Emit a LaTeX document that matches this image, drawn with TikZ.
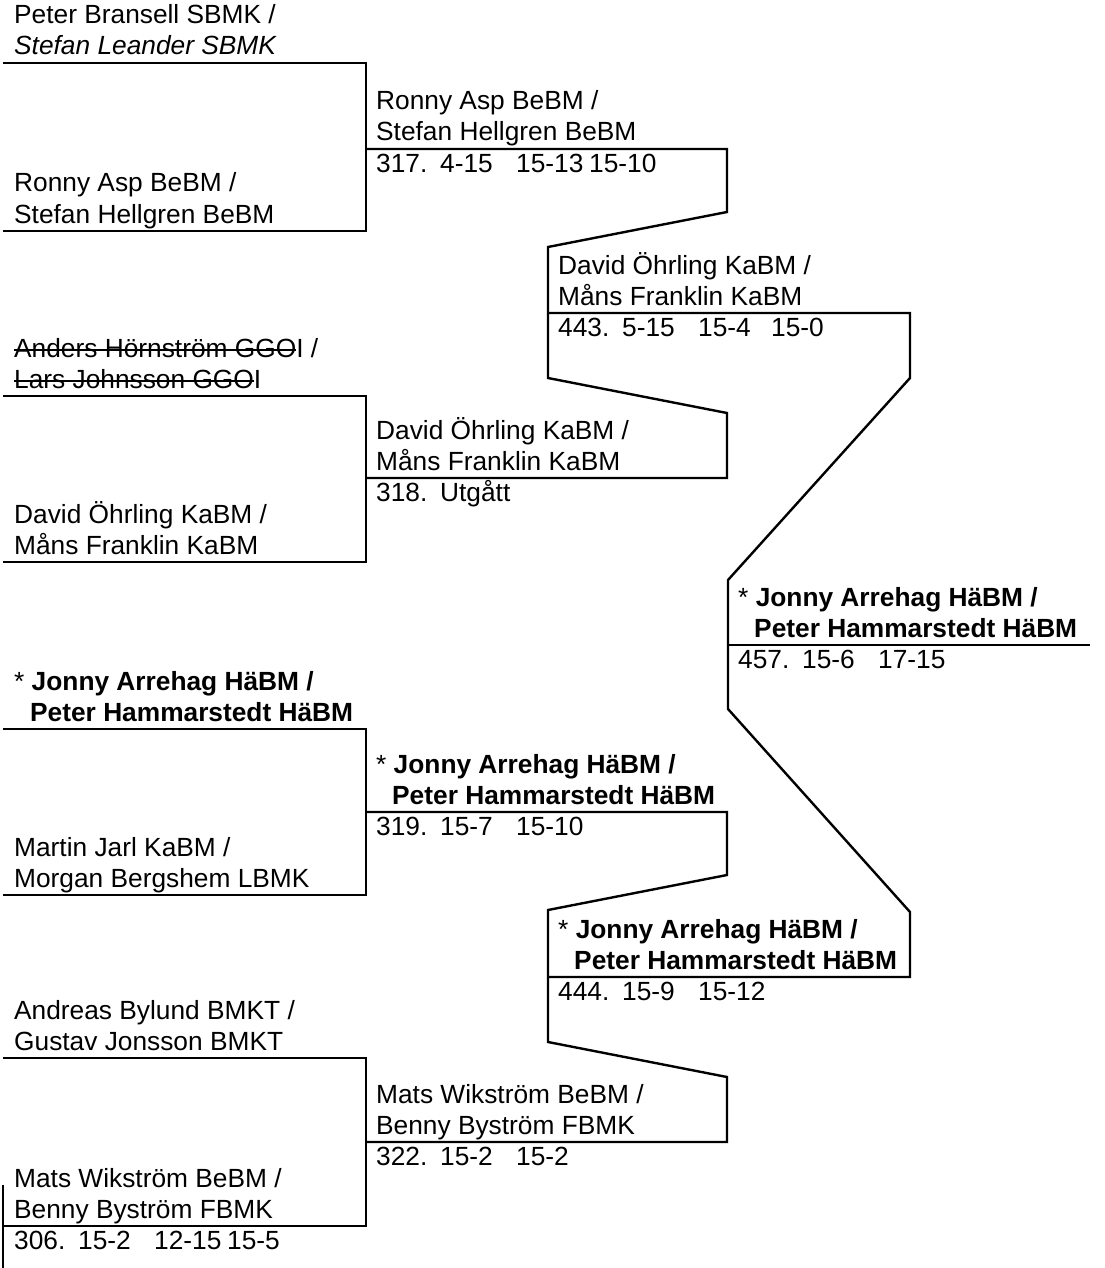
\documentclass[tikz,border=0pt]{standalone}
\usepackage{fontspec}
\setmainfont{Liberation Sans}
\newsavebox{\strikebox}
\newcommand{\struck}[1]{\sbox{\strikebox}{#1}\rlap{\rule[6.5pt]{\wd\strikebox}{1.9pt}}\usebox{\strikebox}}
\newcommand{\res}[4]{\makebox[64pt][l]{#1}\makebox[76pt][l]{#2}\makebox[73pt][l]{#3}#4}

\begin{document}
\begin{tikzpicture}[x=1pt,y=-1pt,line width=2.4pt,
    txt/.style={anchor=base west,inner sep=0pt,font=\fontsize{26.3}{30}\selectfont}]
    \useasboundingbox (0,0) rectangle (1104,1268);
    % first round
    \coordinate (R1) at (3,63);
    \coordinate (R2) at (3,231);
    \coordinate (R3) at (3,396);
    \coordinate (R4) at (3,562);
    \coordinate (R5) at (3,729);
    \coordinate (R6) at (3,895);
    \coordinate (R7) at (3,1058);
    \coordinate (R8) at (3,1226);
    % second round
    \coordinate (Q1) at (366,149);
    \coordinate (Q2) at (366,478);
    \coordinate (Q3) at (366,812);
    \coordinate (Q4) at (366,1142);
    % semi finals and final
    \coordinate (S1) at (548,313);
    \coordinate (S2) at (548,977);
    \coordinate (F1) at (727,645);
      \draw (R1) -- (366,63) -- (366,231) -- (R2);
      \draw (R3) -- (366,396) -- (366,562) -- (R4);
      \draw (R5) -- (366,729) -- (366,895) -- (R6);
      \draw (R7) -- (366,1058) -- (366,1226) -- (R8);
      \draw (3,1185) -- (3,1268);
      \draw (Q1) -- (727,149) -- (727,212) -- (548,247)
        -- (548,378) -- (727,413) -- (727,478) -- (Q2);
      \draw (Q3) -- (727,812) -- (727,875) -- (548,910)
        -- (548,1042) -- (727,1077) -- (727,1142) -- (Q4);
      \draw (S1) -- (910,313) -- (910,378) -- (728,580)
        -- (728,709) -- (910,912) -- (910,977) -- (S2);
      \draw (F1) -- (1090,645);
      % names, first round
      \node [txt] (r1a) at (13,24) {Peter Bransell SBMK /};
      \node [txt] (r1b) at (13,55) {\textit{Stefan Leander SBMK}};
      \node [txt] (r2a) at (13,192) {Ronny Asp BeBM /};
      \node [txt] (r2b) at (13,223) {Stefan Hellgren BeBM};
      \node [txt] (r3a) at (13,357) {\struck{Anders Hörnström GGO}I /};
      \node [txt] (r3b) at (13,388) {\struck{Lars Johnsson GGO}I};
      \node [txt] (r4a) at (13,523) {David Öhrling KaBM /};
      \node [txt] (r4b) at (13,554) {Måns Franklin KaBM};
      \node [txt] (r5a) at (13,690) {* \textbf{Jonny Arrehag HäBM /}};
      \node [txt] (r5b) at (13,721) {\hspace*{16pt}\textbf{Peter Hammarstedt HäBM}};
      \node [txt] (r6a) at (13,856) {Martin Jarl KaBM /};
      \node [txt] (r6b) at (13,887) {Morgan Bergshem LBMK};
      \node [txt] (r7a) at (13,1019) {Andreas Bylund BMKT /};
      \node [txt] (r7b) at (13,1050) {Gustav Jonsson BMKT};
      \node [txt] (r8a) at (13,1187) {Mats Wikström BeBM /};
      \node [txt] (r8b) at (13,1218) {Benny Byström FBMK};
      \node [txt] (r8s) at (13,1249.5) {\res{306.}{15-2}{12-15}{15-5}};
      % second round
      \node [txt] (q1a) at (375,110) {Ronny Asp BeBM /};
      \node [txt] (q1b) at (375,141) {Stefan Hellgren BeBM};
      \node [txt] (q1s) at (375,172.5) {\res{317.}{4-15}{15-13}{15-10}};
      \node [txt] (q2a) at (375,439) {David Öhrling KaBM /};
      \node [txt] (q2b) at (375,470) {Måns Franklin KaBM};
      \node [txt] (q2s) at (375,501.5) {\res{318.}{Utgått}{}{}};
      \node [txt] (q3a) at (375,773) {* \textbf{Jonny Arrehag HäBM /}};
      \node [txt] (q3b) at (375,804) {\hspace*{16pt}\textbf{Peter Hammarstedt HäBM}};
      \node [txt] (q3s) at (375,835.5) {\res{319.}{15-7}{15-10}{}};
      \node [txt] (q4a) at (375,1103) {Mats Wikström BeBM /};
      \node [txt] (q4b) at (375,1134) {Benny Byström FBMK};
      \node [txt] (q4s) at (375,1165.5) {\res{322.}{15-2}{15-2}{}};
      % semi finals
      \node [txt] (s1a) at (557,274) {David Öhrling KaBM /};
      \node [txt] (s1b) at (557,305) {Måns Franklin KaBM};
      \node [txt] (s1s) at (557,336.5) {\res{443.}{5-15}{15-4}{15-0}};
      \node [txt] (s2a) at (557,938) {* \textbf{Jonny Arrehag HäBM /}};
      \node [txt] (s2b) at (557,969) {\hspace*{16pt}\textbf{Peter Hammarstedt HäBM}};
      \node [txt] (s2s) at (557,1000.5) {\res{444.}{15-9}{15-12}{}};
      % final
      \node [txt] (f1a) at (737,606) {* \textbf{Jonny Arrehag HäBM /}};
      \node [txt] (f1b) at (737,637) {\hspace*{16pt}\textbf{Peter Hammarstedt HäBM}};
      \node [txt] (f1s) at (737,668.5) {\res{457.}{15-6}{17-15}{}};
  \end{tikzpicture}
\end{document}
